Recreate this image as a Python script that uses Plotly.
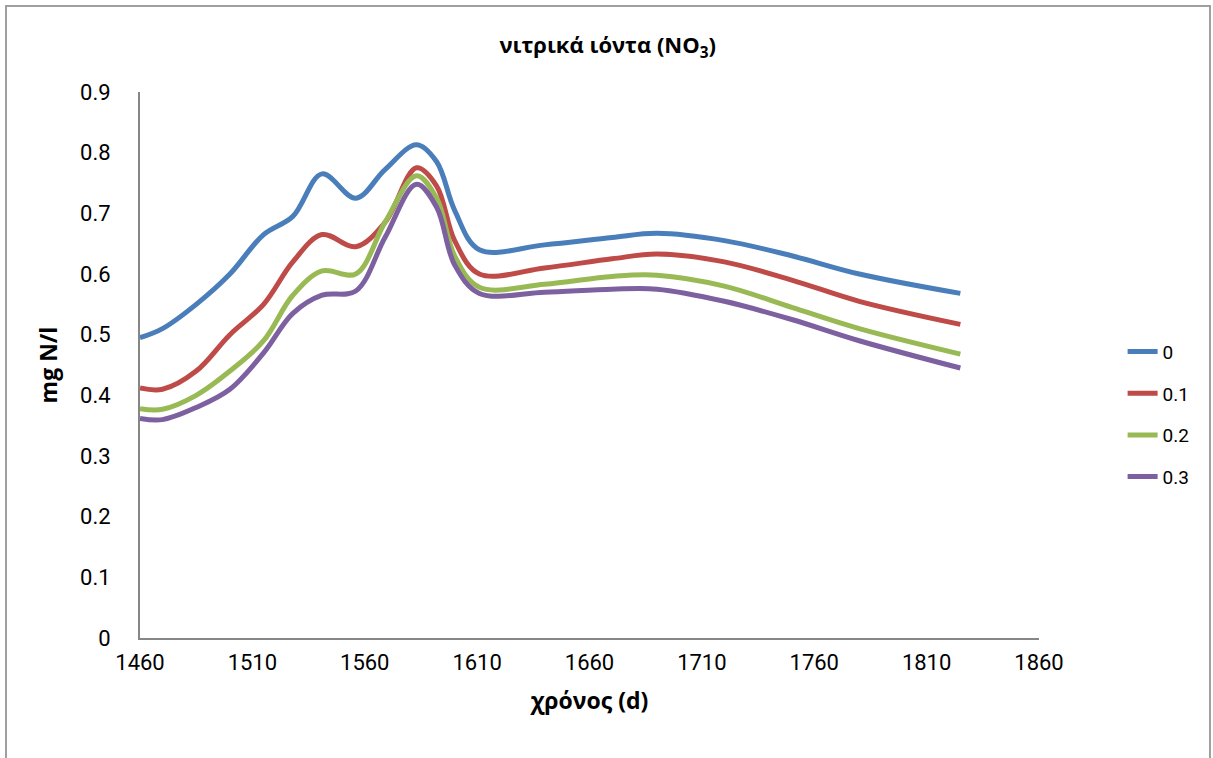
import plotly.graph_objects as go

days = [1460, 1470, 1485, 1500, 1515, 1528, 1541, 1556, 1569, 1583, 1592, 1600, 1611, 1640, 1670, 1690, 1720, 1750, 1780, 1825]

s0 = [0.495, 0.51, 0.55, 0.60, 0.665, 0.695, 0.765, 0.725, 0.772, 0.813, 0.785, 0.705, 0.64, 0.648, 0.66, 0.667, 0.655, 0.63, 0.60, 0.568]
s1 = [0.412, 0.41, 0.44, 0.50, 0.55, 0.62, 0.665, 0.645, 0.685, 0.775, 0.745, 0.655, 0.60, 0.61, 0.625, 0.633, 0.62, 0.59, 0.555, 0.517]
s2 = [0.378, 0.377, 0.40, 0.44, 0.49, 0.565, 0.605, 0.60, 0.685, 0.762, 0.725, 0.63, 0.578, 0.583, 0.596, 0.598, 0.58, 0.545, 0.51, 0.468]
s3 = [0.362, 0.36, 0.38, 0.41, 0.47, 0.535, 0.565, 0.572, 0.66, 0.748, 0.71, 0.615, 0.568, 0.57, 0.575, 0.575, 0.555, 0.525, 0.49, 0.445]

names = ["0", "0.1", "0.2", "0.3"]
colors = ["#4A7EBB", "#BE4B48", "#98B954", "#7D60A0"]
x_ticks = [1460, 1510, 1560, 1610, 1660, 1710, 1760, 1810, 1860]
y_ticks = [0, 0.1, 0.2, 0.3, 0.4, 0.5, 0.6, 0.7, 0.8, 0.9]

font_family = "Roboto, sans-serif"
bold_family = "Open Sans, sans-serif"

fig = go.Figure()
for name, vals, col in zip(names, [s0, s1, s2, s3], colors):
    fig.add_trace(go.Scatter(x=days, y=vals, name=name, mode="lines",
                             line=dict(color=col, width=5, shape="spline", smoothing=1.0),
                             legendgroup=name))

fig.update_layout(
    width=1213, height=758,
    margin=dict(l=140, r=174, t=92, b=120),
    paper_bgcolor="white", plot_bgcolor="white",
    font=dict(family=font_family, color="#000000", size=22),
    title=dict(text="<b>νιτρικά ιόντα (NO<sub>3</sub>)</b>", x=0.501, xanchor="center",
               y=0.94, yanchor="middle", font=dict(size=22, family=bold_family)),
    xaxis=dict(range=[1460, 1860], tickvals=x_ticks, ticktext=[str(v) for v in x_ticks],
               showgrid=False, zeroline=False, showline=True, linecolor="#868686", linewidth=2,
               ticks="", ticklen=0, ticklabelstandoff=4,
               title=dict(text="<b>χρόνος (d)</b>", font=dict(size=23, family=bold_family), standoff=18)),
    yaxis=dict(range=[0, 0.9], tickvals=y_ticks, ticktext=[("%g" % v) for v in y_ticks],
               showgrid=False, zeroline=False, showline=True, linecolor="#868686", linewidth=2,
               ticks="", ticklen=0, ticklabelstandoff=23,
               title=dict(text="<b>mg N/l</b>", font=dict(size=23, family=bold_family), standoff=16)),
    legend=dict(x=1.093, y=0.41, xanchor="left", yanchor="middle", font=dict(size=19),
                tracegroupgap=14, bgcolor="rgba(0,0,0,0)", borderwidth=0),
    showlegend=True,
)

fig.add_shape(type="rect", xref="paper", yref="paper",
              x0=(6 - 140) / 899, x1=(1210 - 140) / 899, y0=(638 - 770) / 546, y1=(638 - 6) / 546,
              line=dict(color="#A0A0A0", width=2), fillcolor="rgba(0,0,0,0)", layer="below")

fig.write_html("out.html", config={"displayModeBar": False},
               post_script="document.body.style.margin='0';")
